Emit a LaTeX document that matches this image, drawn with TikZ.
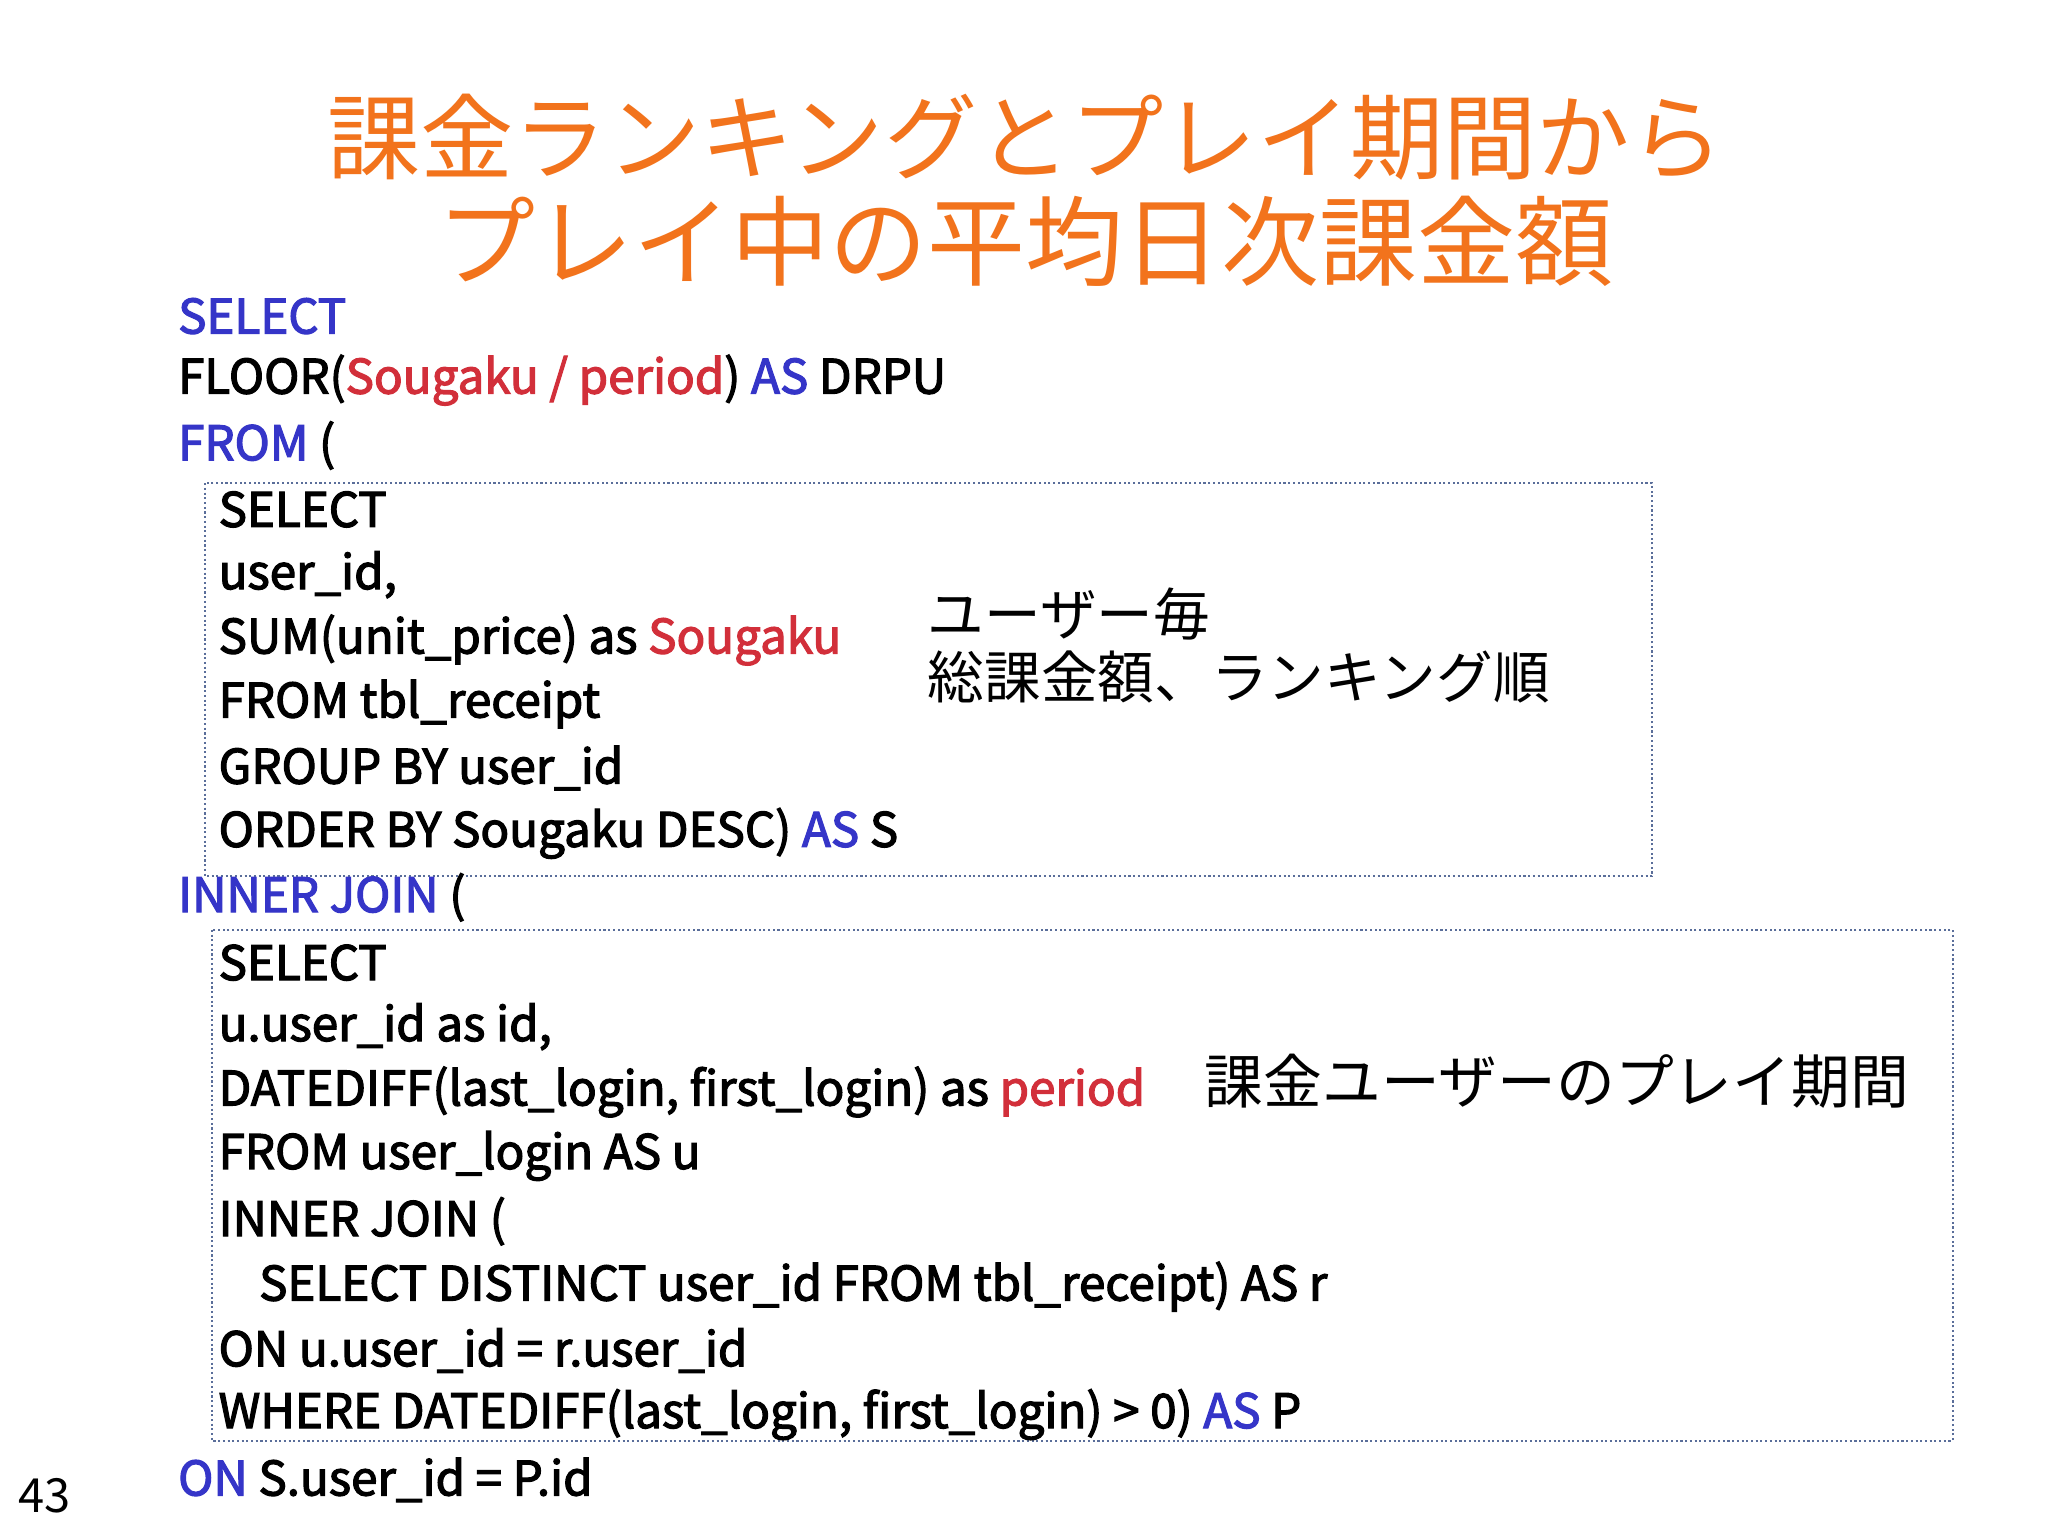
\documentclass[tikz,border=0pt]{standalone}
\usepackage{fontspec}
\setmainfont{Noto Sans CJK JP}
\newfontfamily\codefont[FakeBold=2.5]{Noto Sans CJK JP}
\definecolor{ttl}{HTML}{F2731C}
\definecolor{kw}{HTML}{3535C8}
\definecolor{rd}{HTML}{D22F3A}
\definecolor{bx}{HTML}{5A6E9A}
\newcommand{\K}[1]{\textcolor{kw}{#1}}
\newcommand{\R}[1]{\textcolor{rd}{#1}}
\begin{document}
\begin{tikzpicture}[x=0.5pt,y=-0.5pt,
  code/.style={anchor=west,inner sep=0pt,font=\codefont\fontsize{18.2}{20}\selectfont},
  note/.style={anchor=west,inner sep=0pt,font=\fontsize{21.7}{24}\selectfont},
  box/.style={draw=bx,densely dotted,line width=0.8pt}]
\useasboundingbox[fill=white] (0,0) rectangle (1568,1175);
\node[text=ttl,font=\fontsize{35.7}{40}\selectfont,align=center] (t1) at (785,105) {課金ランキングとプレイ期間から};
\node[text=ttl,font=\fontsize{37.5}{40}\selectfont,align=center] (t2) at (785,185) {プレイ中の平均日次課金額};
\draw[box] (157,370) rectangle (1265,671);
\draw[box] (162,712) rectangle (1495,1103);
\node[code] (l1) at (136,242) {\K{SELECT}};
\node[code] (l2) at (136,291) {FLOOR(\R{Sougaku / period}) \K{AS} DRPU};
\node[code] (l3) at (136,341) {\K{FROM} (};
\node[code] (l4) at (167,390) {SELECT};
\node[code] (l5) at (167,440) {user\_id,};
\node[code] (l6) at (167,490) {SUM(unit\_price) as \R{Sougaku}};
\node[code] (l7) at (167,539) {FROM tbl\_receipt};
\node[code] (l8) at (167,588) {GROUP BY user\_id};
\node[code] (l9) at (167,638) {ORDER BY Sougaku DESC) \K{AS} S};
\node[code] (l10) at (136,687) {\K{INNER JOIN} (};
\node[code] (l11) at (167,737) {SELECT};
\node[code] (l12) at (167,786) {u.user\_id as id,};
\node[code] (l13) at (167,836) {DATEDIFF(last\_login, first\_login) as \R{period}};
\node[code] (l14) at (167,885) {FROM user\_login AS u};
\node[code] (l15) at (167,935) {INNER JOIN (};
\node[code] (l16) at (198,985) {SELECT DISTINCT user\_id FROM tbl\_receipt) AS r};
\node[code] (l17) at (167,1034) {ON u.user\_id = r.user\_id};
\node[code] (l18) at (167,1083) {WHERE DATEDIFF(last\_login, first\_login) > 0) \K{AS} P};
\node[code] (l19) at (136,1133) {\K{ON} S.user\_id = P.id};
\node[note] (n1) at (710,470) {ユーザー毎};
\node[note] (n2) at (710,518) {総課金額、ランキング順};
\node[note,font=\fontsize{22.5}{24}\selectfont] (n3) at (922,828) {課金ユーザーのプレイ期間};
\node[anchor=west,inner sep=0pt,font=\fontsize{18}{20}\selectfont] (pg) at (14,1145) {43};
\end{tikzpicture}
\end{document}
